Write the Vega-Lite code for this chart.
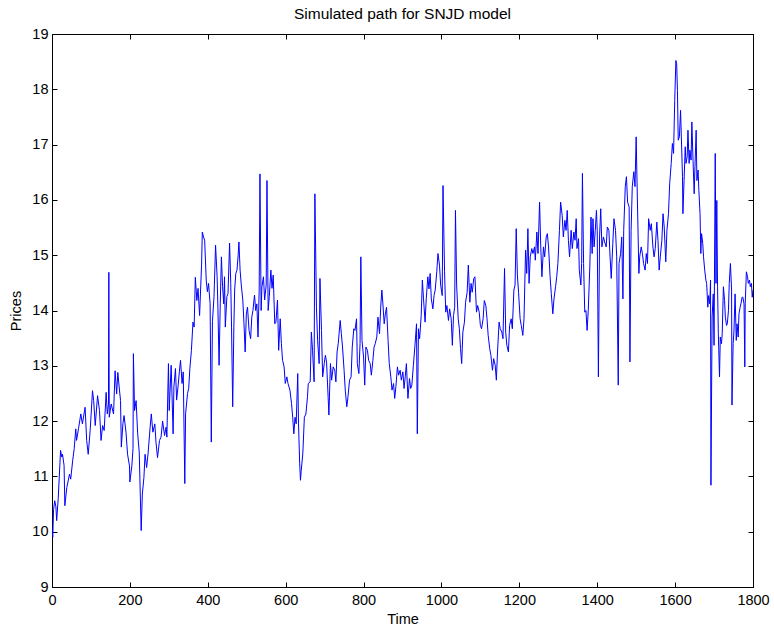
{
  "$schema": "https://vega.github.io/schema/vega-lite/v6.json",
  "autosize": {"type": "none"},
  "width": 701,
  "height": 553,
  "padding": {"left": 52, "top": 34, "right": 21, "bottom": 43},
  "background": "white",
  "title": {"text": "Simulated path for SNJD model", "fontSize": 15.5, "fontWeight": "normal", "font": "Liberation Sans", "color": "black", "offset": 4},
  "config": {
    "view": {"stroke": "black", "strokeWidth": 1},
    "axis": {"grid": false, "domainColor": "black", "tickColor": "black", "labelColor": "black", "titleColor": "black", "labelFont": "Liberation Sans", "titleFont": "Liberation Sans", "labelFontSize": 14.5, "titleFontSize": 14.5, "titleFontWeight": "normal", "tickSize": -5, "domainWidth": 1, "tickWidth": 1}
  },
  "data": {"values": [
    {"t":0,"p":10.05},{"t":2,"p":9.9},{"t":4,"p":10.4},{"t":7,"p":10.56},{"t":10,"p":10.45},{"t":12,"p":10.2},{"t":16,"p":10.6},{"t":22,"p":11.47},{"t":25,"p":11.35},{"t":27,"p":11.4},{"t":31,"p":11.2},{"t":33,"p":10.47},{"t":38,"p":10.8},{"t":45,"p":11.04},{"t":48,"p":10.95},{"t":53,"p":11.28},{"t":57,"p":11.5},{"t":61,"p":11.86},{"t":63,"p":11.65},{"t":68,"p":11.86},{"t":74,"p":12.13},{"t":78,"p":11.95},{"t":85,"p":12.25},{"t":89,"p":11.65},{"t":93,"p":11.4},{"t":98,"p":11.83},{"t":104,"p":12.55},{"t":107,"p":12.37},{"t":111,"p":11.92},{"t":117,"p":12.46},{"t":122,"p":12.19},{"t":126,"p":11.65},{"t":130,"p":11.92},{"t":134,"p":11.83},{"t":139,"p":12.52},{"t":142,"p":12.13},{"t":145,"p":12.3},{"t":146,"p":14.69},{"t":147,"p":12.07},{"t":152,"p":12.31},{"t":158,"p":12.13},{"t":162,"p":12.91},{"t":166,"p":12.49},{"t":169,"p":12.88},{"t":173,"p":12.58},{"t":176,"p":12.37},{"t":178,"p":11.53},{"t":182,"p":11.95},{"t":185,"p":12.1},{"t":190,"p":11.8},{"t":194,"p":11.4},{"t":199,"p":11.19},{"t":200,"p":10.9},{"t":205,"p":11.19},{"t":208,"p":11.5},{"t":209,"p":13.22},{"t":212,"p":12.19},{"t":216,"p":12.37},{"t":220,"p":11.77},{"t":224,"p":11.44},{"t":229,"p":10.02},{"t":232,"p":10.68},{"t":236,"p":10.98},{"t":239,"p":11.4},{"t":243,"p":11.16},{"t":247,"p":11.44},{"t":252,"p":11.89},{"t":255,"p":12.13},{"t":259,"p":11.8},{"t":264,"p":11.95},{"t":267,"p":11.62},{"t":271,"p":11.34},{"t":276,"p":11.65},{"t":280,"p":11.71},{"t":284,"p":12.0},{"t":289,"p":11.74},{"t":293,"p":11.89},{"t":295,"p":11.71},{"t":299,"p":13.04},{"t":301,"p":12.19},
    {"t":306,"p":13.01},{"t":311,"p":11.77},{"t":313,"p":12.62},{"t":317,"p":12.95},{"t":320,"p":12.38},{"t":324,"p":12.65},{"t":327,"p":12.89},{"t":330,"p":13.1},{"t":334,"p":12.68},{"t":337,"p":12.89},{"t":341,"p":10.87},{"t":343,"p":12.13},{"t":348,"p":12.5},{"t":351,"p":12.59},{"t":354,"p":12.95},{"t":358,"p":13.28},{"t":362,"p":13.79},{"t":365,"p":13.7},{"t":368,"p":14.6},{"t":372,"p":14.18},{"t":375,"p":14.4},{"t":379,"p":13.91},{"t":384,"p":14.82},{"t":386,"p":15.42},{"t":389,"p":15.33},{"t":392,"p":15.27},{"t":396,"p":14.55},{"t":399,"p":14.34},{"t":402,"p":14.49},{"t":406,"p":14.12},{"t":409,"p":11.62},{"t":412,"p":13.8},{"t":416,"p":14.25},{"t":420,"p":15.18},{"t":424,"p":14.61},{"t":426,"p":14.06},{"t":429,"p":13.01},{"t":432,"p":14.12},{"t":435,"p":14.97},{"t":438,"p":14.43},{"t":441,"p":14.12},{"t":443,"p":14.61},{"t":445,"p":13.7},{"t":449,"p":14.25},{"t":452,"p":14.31},{"t":456,"p":15.22},{"t":459,"p":14.49},{"t":461,"p":13.7},{"t":464,"p":12.26},{"t":467,"p":13.7},{"t":469,"p":14.37},{"t":472,"p":14.67},{"t":475,"p":14.73},{"t":478,"p":15.0},{"t":480,"p":15.24},{"t":483,"p":14.73},{"t":486,"p":14.46},{"t":490,"p":14.19},{"t":493,"p":13.76},{"t":496,"p":13.25},{"t":499,"p":13.94},{"t":502,"p":14.06},{"t":506,"p":13.64},{"t":510,"p":13.49},{"t":513,"p":13.88},{"t":516,"p":14.0},{"t":520,"p":14.28},{"t":523,"p":14.0},{"t":526,"p":14.12},{"t":529,"p":13.52},{"t":532,"p":14.37},{"t":534,"p":16.47},{"t":537,"p":14.0},{"t":539,"p":14.43},{"t":543,"p":14.61},{"t":546,"p":14.19},{"t":550,"p":14.46},{"t":552,"p":16.35},{"t":555,"p":14.0},{"t":558,"p":14.25},{"t":562,"p":14.73},{"t":565,"p":14.4},{"t":568,"p":14.64},{"t":572,"p":13.76},{"t":575,"p":13.79},{"t":579,"p":14.19},{"t":582,"p":13.28},{"t":586,"p":13.85},{"t":589,"p":13.4},{"t":592,"p":13.1},{"t":596,"p":12.98},{"t":599,"p":12.68},{"t":603,"p":12.8},{"t":606,"p":12.68},
    {"t":611,"p":12.56},{"t":615,"p":12.32},{"t":618,"p":12.07},{"t":621,"p":11.77},{"t":624,"p":12.07},{"t":627,"p":11.95},{"t":631,"p":12.86},{"t":633,"p":11.95},{"t":636,"p":11.23},{"t":638,"p":10.93},{"t":640,"p":11.11},{"t":644,"p":11.41},{"t":648,"p":12.07},{"t":652,"p":12.13},{"t":656,"p":12.44},{"t":658,"p":12.68},{"t":663,"p":12.71},{"t":666,"p":13.61},{"t":669,"p":13.28},{"t":673,"p":12.71},{"t":675,"p":16.11},{"t":679,"p":14.06},{"t":682,"p":13.46},{"t":686,"p":13.04},{"t":688,"p":14.58},{"t":692,"p":13.64},{"t":695,"p":12.8},{"t":699,"p":13.04},{"t":702,"p":13.19},{"t":705,"p":13.07},{"t":709,"p":12.44},{"t":711,"p":12.11},{"t":715,"p":13.04},{"t":718,"p":12.74},{"t":722,"p":12.98},{"t":726,"p":12.92},{"t":729,"p":12.71},{"t":732,"p":13.25},{"t":735,"p":13.4},{"t":740,"p":13.82},{"t":743,"p":13.58},{"t":746,"p":13.34},{"t":750,"p":12.92},{"t":753,"p":12.56},{"t":757,"p":12.26},{"t":760,"p":12.44},{"t":764,"p":12.74},{"t":768,"p":12.8},{"t":771,"p":13.34},{"t":775,"p":13.67},{"t":778,"p":13.64},{"t":782,"p":13.85},{"t":784,"p":13.04},{"t":788,"p":12.86},{"t":791,"p":13.4},{"t":793,"p":14.97},{"t":796,"p":13.46},{"t":800,"p":13.16},{"t":803,"p":12.65},{"t":806,"p":13.34},{"t":810,"p":13.28},{"t":813,"p":13.1},{"t":817,"p":13.04},{"t":820,"p":12.83},{"t":824,"p":13.1},{"t":827,"p":13.34},{"t":830,"p":13.4},{"t":834,"p":13.52},{"t":837,"p":13.88},{"t":841,"p":13.58},{"t":844,"p":14.06},{"t":847,"p":14.37},{"t":849,"p":14.19},{"t":853,"p":13.76},{"t":856,"p":13.94},{"t":859,"p":14.06},{"t":863,"p":13.46},{"t":866,"p":13.04},{"t":870,"p":12.8},{"t":873,"p":12.56},{"t":877,"p":12.68},{"t":880,"p":12.41},{"t":883,"p":12.62},{"t":887,"p":12.98},{"t":890,"p":12.83},{"t":894,"p":12.92},{"t":897,"p":12.74},{"t":901,"p":12.89},{"t":904,"p":12.59},{"t":907,"p":12.8},{"t":910,"p":13.04},
    {"t":914,"p":12.41},{"t":918,"p":12.77},{"t":921,"p":12.59},{"t":924,"p":12.65},{"t":928,"p":13.01},{"t":932,"p":13.37},{"t":936,"p":13.76},{"t":938,"p":11.77},{"t":941,"p":13.67},{"t":944,"p":13.49},{"t":948,"p":13.91},{"t":951,"p":14.55},{"t":954,"p":14.21},{"t":958,"p":13.79},{"t":961,"p":14.21},{"t":965,"p":14.61},{"t":968,"p":14.39},{"t":971,"p":14.67},{"t":974,"p":14.21},{"t":978,"p":14.03},{"t":981,"p":14.27},{"t":984,"p":14.37},{"t":988,"p":14.7},{"t":991,"p":15.03},{"t":995,"p":14.82},{"t":998,"p":14.46},{"t":1002,"p":14.27},{"t":1004,"p":16.26},{"t":1008,"p":14.7},{"t":1011,"p":13.97},{"t":1014,"p":14.09},{"t":1018,"p":13.82},{"t":1021,"p":14.03},{"t":1025,"p":13.85},{"t":1028,"p":13.37},{"t":1031,"p":13.91},{"t":1034,"p":14.06},{"t":1036,"p":15.81},{"t":1039,"p":14.46},{"t":1043,"p":13.85},{"t":1046,"p":13.67},{"t":1049,"p":13.31},{"t":1052,"p":13.04},{"t":1055,"p":13.61},{"t":1059,"p":13.79},{"t":1062,"p":14.15},{"t":1066,"p":14.33},{"t":1069,"p":14.82},{"t":1073,"p":14.15},{"t":1076,"p":14.49},{"t":1079,"p":14.33},{"t":1083,"p":14.58},{"t":1086,"p":14.61},{"t":1090,"p":13.97},{"t":1093,"p":14.09},{"t":1097,"p":13.97},{"t":1100,"p":13.73},{"t":1103,"p":13.67},{"t":1107,"p":13.85},{"t":1110,"p":14.18},{"t":1114,"p":14.09},{"t":1117,"p":13.85},{"t":1120,"p":13.55},{"t":1124,"p":13.31},{"t":1127,"p":13.19},{"t":1131,"p":12.92},{"t":1134,"p":13.13},{"t":1138,"p":13.01},{"t":1141,"p":12.74},{"t":1144,"p":13.25},{"t":1148,"p":13.79},{"t":1151,"p":13.67},{"t":1155,"p":13.61},{"t":1158,"p":13.49},{"t":1162,"p":14.76},{"t":1165,"p":13.61},{"t":1168,"p":13.37},{"t":1172,"p":13.25},{"t":1175,"p":13.73},{"t":1179,"p":13.85},{"t":1182,"p":13.67},{"t":1186,"p":14.37},{"t":1189,"p":14.46},{"t":1192,"p":15.48},{"t":1195,"p":14.64},{"t":1198,"p":14.33},{"t":1202,"p":13.85},{"t":1205,"p":13.73},{"t":1209,"p":13.55},{"t":1212,"p":13.85},
    {"t":1216,"p":15.09},{"t":1219,"p":14.67},{"t":1222,"p":15.48},{"t":1225,"p":14.49},{"t":1228,"p":14.97},{"t":1232,"p":15.12},{"t":1235,"p":15.03},{"t":1239,"p":15.15},{"t":1241,"p":14.91},{"t":1245,"p":15.42},{"t":1248,"p":15.03},{"t":1252,"p":15.96},{"t":1255,"p":15.15},{"t":1258,"p":14.61},{"t":1262,"p":15.15},{"t":1265,"p":14.97},{"t":1269,"p":15.33},{"t":1272,"p":15.39},{"t":1275,"p":15.15},{"t":1279,"p":14.61},{"t":1282,"p":14.31},{"t":1286,"p":13.94},{"t":1289,"p":14.21},{"t":1293,"p":14.43},{"t":1296,"p":14.61},{"t":1299,"p":14.85},{"t":1303,"p":15.45},{"t":1306,"p":15.96},{"t":1310,"p":15.72},{"t":1313,"p":15.33},{"t":1317,"p":15.63},{"t":1320,"p":15.45},{"t":1323,"p":15.81},{"t":1326,"p":15.27},{"t":1329,"p":14.97},{"t":1333,"p":15.45},{"t":1336,"p":15.12},{"t":1340,"p":15.42},{"t":1343,"p":15.27},{"t":1346,"p":15.66},{"t":1348,"p":15.12},{"t":1352,"p":15.3},{"t":1354,"p":14.73},{"t":1358,"p":14.46},{"t":1360,"p":14.85},{"t":1362,"p":16.48},{"t":1365,"p":14.85},{"t":1368,"p":13.97},{"t":1371,"p":14.0},{"t":1374,"p":13.64},{"t":1377,"p":14.0},{"t":1381,"p":14.79},{"t":1384,"p":15.69},{"t":1387,"p":15.03},{"t":1389,"p":15.66},{"t":1392,"p":15.15},{"t":1395,"p":15.45},{"t":1398,"p":15.81},{"t":1400,"p":15.45},{"t":1403,"p":12.8},{"t":1406,"p":15.33},{"t":1409,"p":15.84},{"t":1412,"p":15.15},{"t":1416,"p":15.33},{"t":1419,"p":15.24},{"t":1423,"p":15.15},{"t":1426,"p":15.51},{"t":1430,"p":15.45},{"t":1433,"p":14.97},{"t":1436,"p":14.58},{"t":1440,"p":15.21},{"t":1443,"p":15.66},{"t":1447,"p":15.45},{"t":1450,"p":14.97},{"t":1454,"p":12.65},{"t":1456,"p":14.85},{"t":1460,"p":15.03},{"t":1463,"p":15.33},{"t":1466,"p":14.21},{"t":1468,"p":15.45},{"t":1472,"p":16.24},{"t":1475,"p":16.42},{"t":1478,"p":15.96},{"t":1482,"p":15.87},{"t":1484,"p":13.07},{"t":1487,"p":15.45},{"t":1490,"p":16.24},{"t":1494,"p":16.51},{"t":1497,"p":16.24},{"t":1500,"p":17.14},{"t":1503,"p":16.05},{"t":1507,"p":14.67},
    {"t":1509,"p":14.97},{"t":1513,"p":15.15},{"t":1516,"p":15.03},{"t":1519,"p":14.85},{"t":1523,"p":14.73},{"t":1526,"p":15.03},{"t":1529,"p":14.85},{"t":1532,"p":15.66},{"t":1536,"p":15.45},{"t":1539,"p":15.57},{"t":1543,"p":15.15},{"t":1546,"p":14.97},{"t":1549,"p":15.12},{"t":1553,"p":15.6},{"t":1556,"p":15.27},{"t":1559,"p":14.73},{"t":1562,"p":14.97},{"t":1566,"p":15.27},{"t":1569,"p":15.75},{"t":1572,"p":15.51},{"t":1576,"p":14.88},{"t":1579,"p":15.45},{"t":1583,"p":15.75},{"t":1586,"p":16.29},{"t":1590,"p":16.66},{"t":1593,"p":17.02},{"t":1596,"p":16.84},{"t":1599,"p":17.8},{"t":1602,"p":18.52},{"t":1604,"p":18.46},{"t":1606,"p":17.98},{"t":1608,"p":17.08},{"t":1611,"p":17.14},{"t":1614,"p":17.62},{"t":1616,"p":17.14},{"t":1619,"p":16.42},{"t":1620,"p":15.75},{"t":1623,"p":16.35},{"t":1626,"p":16.96},{"t":1628,"p":16.66},{"t":1631,"p":16.78},{"t":1633,"p":17.26},{"t":1636,"p":16.66},{"t":1638,"p":16.9},{"t":1641,"p":16.72},{"t":1643,"p":17.41},{"t":1646,"p":16.72},{"t":1649,"p":16.11},{"t":1651,"p":16.6},{"t":1654,"p":17.26},{"t":1656,"p":16.35},{"t":1659,"p":16.54},{"t":1661,"p":16.17},{"t":1664,"p":15.75},{"t":1666,"p":15.03},{"t":1668,"p":15.39},{"t":1671,"p":15.21},{"t":1673,"p":14.97},{"t":1676,"p":14.73},{"t":1679,"p":14.55},{"t":1681,"p":14.49},{"t":1684,"p":14.06},{"t":1686,"p":14.27},{"t":1689,"p":14.12},{"t":1691,"p":14.55},{"t":1692,"p":10.84},{"t":1695,"p":13.88},{"t":1698,"p":14.3},{"t":1700,"p":13.37},{"t":1703,"p":16.84},{"t":1705,"p":14.49},{"t":1707,"p":15.99},{"t":1709,"p":14.43},{"t":1711,"p":13.58},{"t":1714,"p":12.8},{"t":1716,"p":13.52},{"t":1719,"p":13.4},{"t":1721,"p":13.58},{"t":1724,"p":14.43},{"t":1727,"p":14.18},{"t":1729,"p":13.88},{"t":1732,"p":13.73},{"t":1734,"p":13.76},{"t":1737,"p":14.0},{"t":1739,"p":14.49},{"t":1742,"p":14.85},{"t":1745,"p":14.37},{"t":1746,"p":12.29},{"t":1749,"p":13.4},{"t":1751,"p":13.61},{"t":1754,"p":14.3},{"t":1757,"p":13.46},{"t":1759,"p":13.76},{"t":1762,"p":13.52},{"t":1764,"p":13.94},{"t":1767,"p":14.06},{"t":1769,"p":14.12},{"t":1772,"p":14.24},{"t":1774,"p":14.24},{"t":1777,"p":14.12},{"t":1779,"p":12.98},{"t":1780,"p":14.12},{"t":1783,"p":14.7},{"t":1786,"p":14.61},{"t":1788,"p":14.49},{"t":1791,"p":14.55},{"t":1793,"p":14.43},{"t":1796,"p":14.49},{"t":1798,"p":14.24},{"t":1800,"p":14.37}
  ]},
  "layer": [
    {
      "mark": {"type": "line", "color": "#0000ff", "strokeWidth": 1, "clip": true},
      "encoding": {
        "x": {"field": "t", "type": "quantitative", "scale": {"domain": [0, 1800], "nice": false, "zero": false}, "axis": {"title": "Time", "values": [0,200,400,600,800,1000,1200,1400,1600,1800], "format": "d", "labelPadding": 11, "titlePadding": 6, "labelFlush": false}},
        "y": {"field": "p", "type": "quantitative", "scale": {"domain": [9, 19], "nice": false, "zero": false}, "axis": {"title": "Prices", "values": [9,10,11,12,13,14,15,16,17,18,19], "format": "d", "labelPadding": 9, "titlePadding": 8, "labelFlush": false}}
      }
    },
    {
      "mark": {"type": "line", "strokeOpacity": 0},
      "encoding": {
        "x": {"field": "t", "type": "quantitative", "axis": {"orient": "top", "title": null, "labels": false, "values": [0,200,400,600,800,1000,1200,1400,1600,1800]}},
        "y": {"field": "p", "type": "quantitative", "axis": {"orient": "right", "title": null, "labels": false, "values": [9,10,11,12,13,14,15,16,17,18,19]}}
      }
    }
  ],
  "resolve": {"axis": {"x": "independent", "y": "independent"}}
}
